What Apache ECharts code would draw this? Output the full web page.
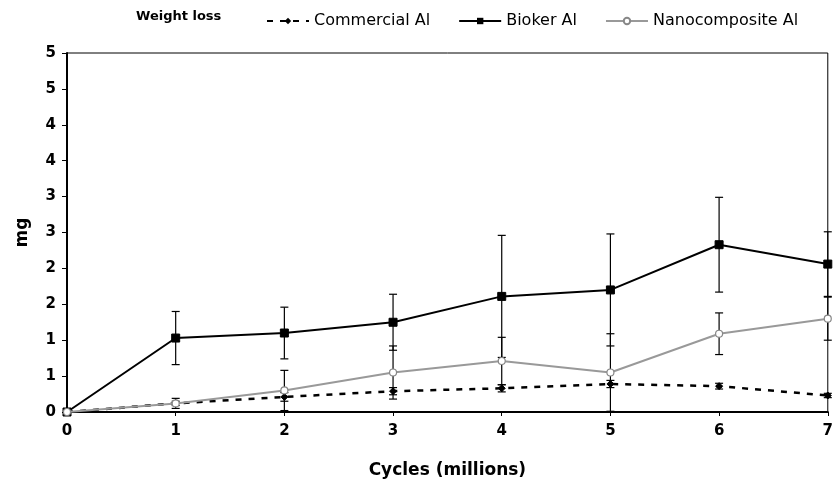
<!DOCTYPE html>
<html><head><meta charset="utf-8">
<script src="https://cdn.jsdelivr.net/npm/echarts@6/dist/echarts.min.js"></script>
<style>html,body{margin:0;padding:0;background:#fff}#c{width:836px;height:484px}</style>
</head><body><div id="c"></div>
<script>
const cycles = [0, 1, 2, 3, 4, 5, 6, 7];
const commercial = [0, 0.12, 0.21, 0.29, 0.33, 0.39, 0.36, 0.23];
const commercialErr = [0, 0.07, 0.06, 0.05, 0.05, 0.05, 0.04, 0.03];
const bioker = [0, 1.03, 1.10, 1.25, 1.61, 1.70, 2.33, 2.06];
const biokerErr = [0, 0.37, 0.36, 0.39, 0.85, 0.78, 0.66, 0.45];
const nano = [0, 0.12, 0.30, 0.55, 0.71, 0.55, 1.09, 1.30];
const nanoErr = [0, 0.03, 0.28, 0.37, 0.33, 0.54, 0.29, 0.30];
const seriesNames = ['Commercial Al', 'Bioker Al', 'Nanocomposite Al'];

const font = '"DejaVu Sans", Verdana, sans-serif';
const pts = arr => cycles.map((x, i) => [x, arr[i]]);
const errs = (v, e) => cycles.map((x, i) => [x, Math.max(0, v[i] - e[i]), v[i] + e[i]]);

function errRender(params, api) {
  const x = api.value(0);
  const lo = api.coord([x, api.value(1)]);
  const hi = api.coord([x, api.value(2)]);
  const w = 4;
  const st = { stroke: '#000', lineWidth: 1.2 };
  return { type: 'group', children: [
    { type: 'line', shape: { x1: lo[0], y1: lo[1], x2: hi[0], y2: hi[1] }, style: st },
    { type: 'line', shape: { x1: lo[0] - w, y1: lo[1], x2: lo[0] + w, y2: lo[1] }, style: st },
    { type: 'line', shape: { x1: hi[0] - w, y1: hi[1], x2: hi[0] + w, y2: hi[1] }, style: st }
  ]};
}

const chart = echarts.init(document.getElementById('c'), null, { renderer: 'canvas' });
chart.setOption({
  animation: false,
  backgroundColor: '#fff',
  textStyle: { fontFamily: font },
  graphic: [{ type: 'text', left: 136, top: 10, style: { text: 'Weight loss', font: 'bold 13px ' + font, fill: '#000' } }],
  legend: {
    top: 8, left: 261, itemWidth: 42, itemHeight: 8, itemGap: 28,
    textStyle: { fontSize: 16, color: '#000', fontFamily: font },
    data: seriesNames
  },
  grid: { left: 67, right: 5, top: 53, bottom: 67, show: true, borderColor: '#000', borderWidth: 1, backgroundColor: 'transparent' },
  xAxis: {
    type: 'value', min: 0, max: 7, interval: 1,
    name: 'Cycles (millions)', nameLocation: 'middle', nameGap: 50,
    nameTextStyle: { fontSize: 17, fontWeight: 'bold', color: '#000', fontFamily: font },
    axisLine: { lineStyle: { color: '#000', width: 2 } },
    axisTick: { show: true, length: 4, lineStyle: { color: '#000', width: 1 } },
    axisLabel: { fontSize: 15, fontWeight: 'bold', color: '#000', margin: 12, fontFamily: font },
    splitLine: { show: false }
  },
  yAxis: {
    type: 'value', min: 0, max: 5, interval: 0.5,
    name: 'mg', nameLocation: 'middle', nameGap: 36, nameRotate: 90,
    nameTextStyle: { fontSize: 17, fontWeight: 'bold', color: '#000', fontFamily: font },
    axisLine: { show: true, lineStyle: { color: '#000', width: 2 } },
    axisTick: { show: true, length: 5, lineStyle: { color: '#000', width: 1 } },
    axisLabel: { fontSize: 15, fontWeight: 'bold', color: '#000', margin: 11, fontFamily: font,
      formatter: v => String(Math.round(v)) },
    splitLine: { show: false }
  },
  series: [
    { type: 'custom', name: 'errC', renderItem: errRender, data: errs(commercial, commercialErr), z: 1, silent: true },
    { type: 'custom', name: 'errB', renderItem: errRender, data: errs(bioker, biokerErr), z: 1, silent: true },
    { type: 'custom', name: 'errN', renderItem: errRender, data: errs(nano, nanoErr), z: 1, silent: true },
    { type: 'line', name: seriesNames[0], data: pts(commercial), z: 3,
      symbol: 'diamond', symbolSize: 7, showAllSymbol: true,
      lineStyle: { color: '#000', width: 2.5, type: [6, 7] },
      itemStyle: { color: '#000', borderColor: '#000' } },
    { type: 'line', name: seriesNames[1], data: pts(bioker), z: 4,
      symbol: 'rect', symbolSize: 8,
      lineStyle: { color: '#000', width: 2 },
      itemStyle: { color: '#000', borderColor: '#000' } },
    { type: 'line', name: seriesNames[2], data: pts(nano), z: 5,
      symbol: 'circle', symbolSize: 7,
      lineStyle: { color: '#999', width: 2 },
      itemStyle: { color: '#fff', borderColor: '#888', borderWidth: 1.2 } }
  ]
});
</script></body></html>
